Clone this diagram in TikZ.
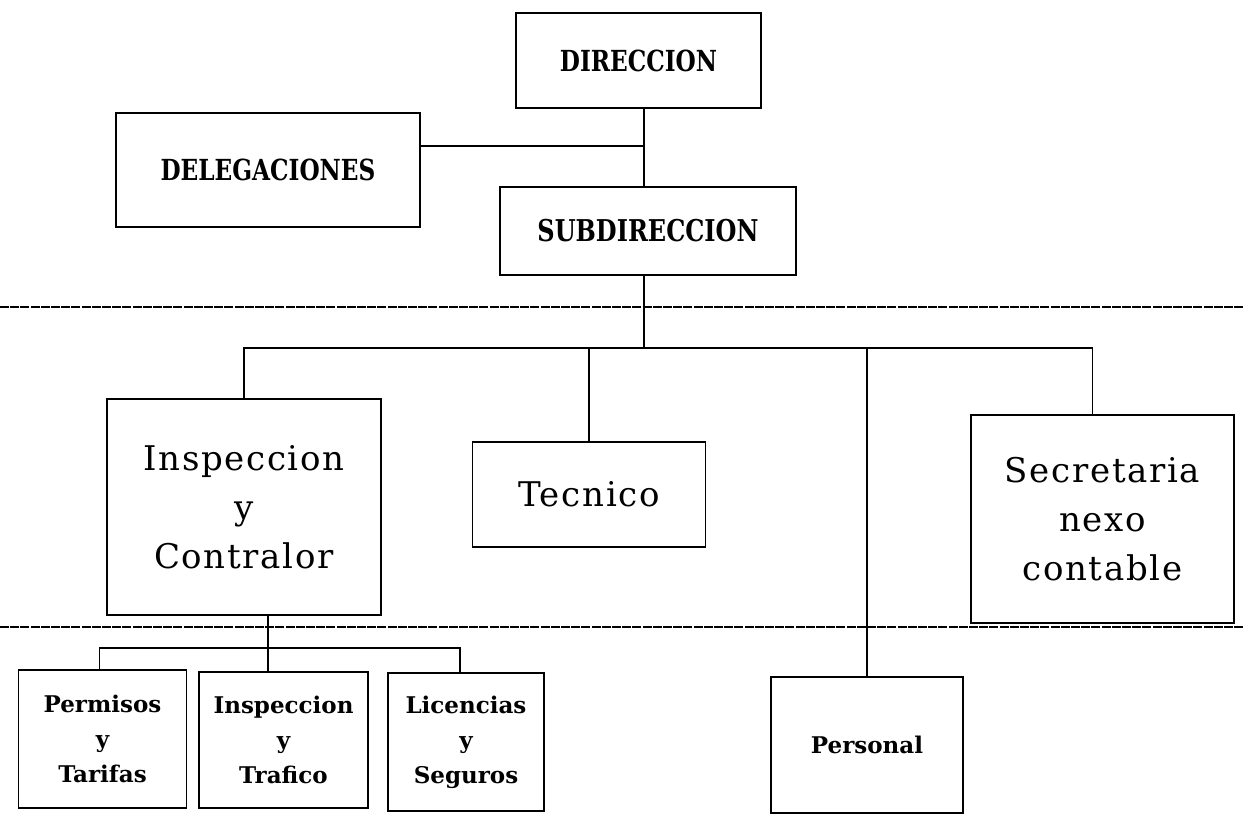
\documentclass[tikz,border=0pt]{standalone}
\usepackage{fontspec}
\newfontfamily\capsfont[FakeStretch=0.8]{DejaVu Serif}
\newfontfamily\bigfont[LetterSpace=5]{DejaVu Serif}
\newfontfamily\smallfont{DejaVu Serif}
\tikzset{
	box/.style={draw, line width=1.7pt, inner sep=0pt, align=center},
	capsbox/.style={box, font=\capsfont\bfseries\fontsize{29}{31}\selectfont},
	bigbox/.style={box, font=\bigfont\fontsize{34}{49}\selectfont},
	smallbox/.style={box, font=\smallfont\bfseries\fontsize{23}{35}\selectfont},
	link/.style={line width=1.4pt},
	cut/.style={line width=1.1pt, dash pattern=on 9pt off 1.2pt},
}
\begin{document}
\begin{tikzpicture}[x=1pt, y=-1pt]
		\useasboundingbox (0,0) rectangle (1244,821);
		\node[capsbox, line width=2.4pt, minimum width=245, minimum height=95] (direccion) at (638.5,60.5) {DIRECCION};
		\node[capsbox, minimum width=304, minimum height=114] (delegaciones) at (268,170) {DELEGACIONES};
		\node[capsbox, font=\capsfont\bfseries\fontsize{30}{32}\selectfont, minimum width=296, minimum height=88] (subdireccion) at (648,231) {SUBDIRECCION};
		\node[bigbox, minimum width=274, minimum height=216] (inspeccion) at (244,507) {Inspeccion\\y\\Contralor};
		\node[bigbox, minimum width=233, minimum height=105] (tecnico) at (589,494.5) {Tecnico};
		\node[bigbox, minimum width=263, minimum height=208] (secretaria) at (1102.5,519) {Secretaria\\nexo\\contable};
		\node[smallbox, minimum width=192, minimum height=136] (personal) at (867,745) {Personal};
		\node[smallbox, minimum width=168, minimum height=138] (permisos) at (102.5,739) {Permisos\\y\\Tarifas};
		\node[smallbox, minimum width=169, minimum height=136] (trafico) at (283.5,740) {Inspeccion\\y\\Trafico};
		\node[smallbox, minimum width=156, minimum height=138] (licencias) at (466,742) {Licencias\\y\\Seguros};
		\coordinate (spine) at (644,146);
		\coordinate (bus) at (644,348);
		\coordinate (subbus) at (268,648);
		\coordinate (cut1l) at (0,307);
		\coordinate (cut1r) at (1244,307);
		\coordinate (cut2l) at (0,627);
		\coordinate (cut2r) at (1244,627);
		\draw[cut] (cut1l) -- (cut1r);
		\draw[cut] (cut2l) -- (cut2r);
		\draw[link] (direccion.south -| spine) -- (subdireccion.north -| spine);
		\draw[link] (delegaciones.east |- spine) -- (spine);
		\draw[link] (subdireccion.south -| bus) -- (bus);
		\draw[link] (inspeccion.north) |- (bus) -| ([xshift=-10pt]secretaria.north);
		\draw[link] (tecnico.north |- bus) -- (tecnico.north);
		\draw[link] (personal.north |- bus) -- (personal.north);
		\draw[link] (inspeccion.south -| subbus) -- (trafico.north -| subbus);
		\draw[link] ([xshift=-3pt]permisos.north) |- (subbus) -| ([xshift=-6pt]licencias.north);
\end{tikzpicture}
\end{document}
